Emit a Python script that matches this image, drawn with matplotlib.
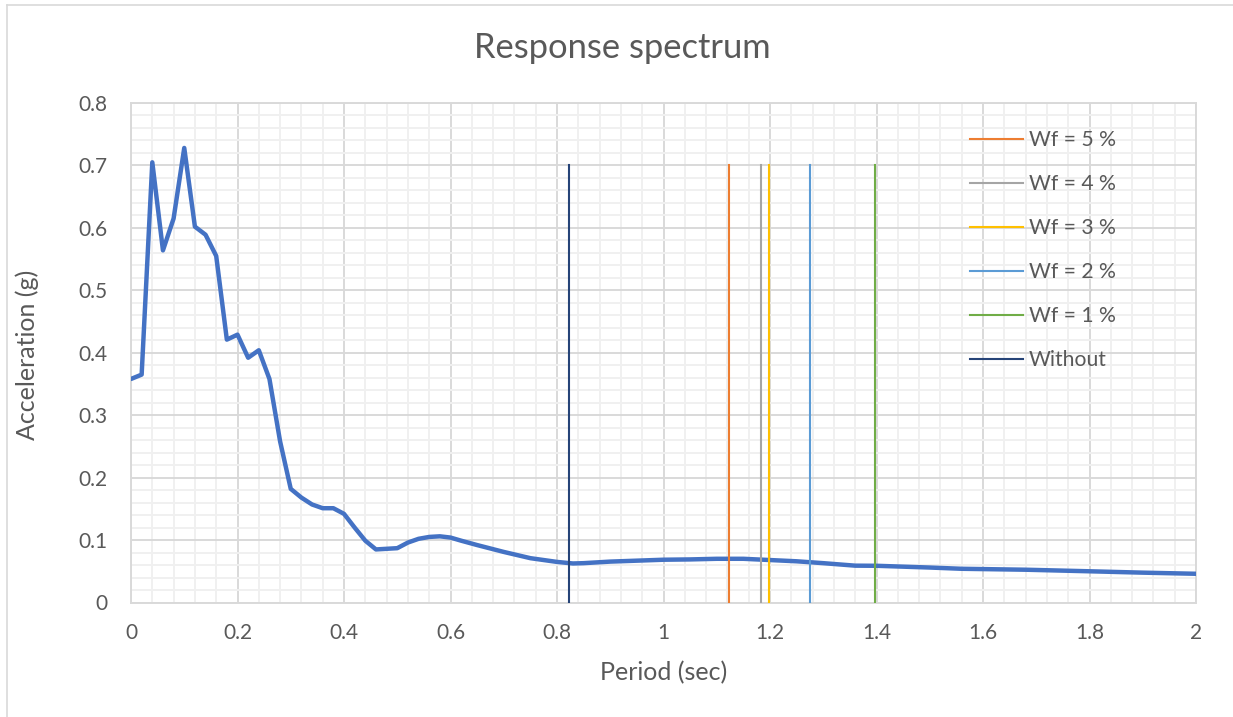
import matplotlib
matplotlib.use("Agg")
import matplotlib.pyplot as plt
from matplotlib.lines import Line2D
from matplotlib.ticker import MultipleLocator, FuncFormatter

plt.rcParams['font.family'] = ['Lato', 'DejaVu Sans']

# Response spectrum: period (s) vs spectral acceleration (g)
period = [0.00, 0.02, 0.04, 0.06, 0.08, 0.10, 0.12, 0.14, 0.16, 0.18,
          0.20, 0.22, 0.24, 0.26, 0.28, 0.30, 0.32, 0.34, 0.36, 0.38,
          0.40, 0.42, 0.44, 0.46, 0.48, 0.50, 0.52, 0.54, 0.56, 0.58,
          0.60, 0.62, 0.65, 0.70, 0.75, 0.80, 0.83, 0.85, 0.90, 0.95,
          1.00, 1.05, 1.10, 1.15, 1.20, 1.25, 1.30, 1.36, 1.40, 1.50,
          1.56, 1.68, 1.80, 1.90, 2.00]
acceleration = [0.358, 0.365, 0.705, 0.564, 0.615, 0.728, 0.602, 0.589, 0.555, 0.421,
                0.429, 0.392, 0.404, 0.358, 0.258, 0.182, 0.168, 0.157, 0.151, 0.151,
                0.142, 0.120, 0.099, 0.085, 0.086, 0.087, 0.096, 0.102, 0.105, 0.106,
                0.104, 0.099, 0.092, 0.081, 0.071, 0.065, 0.0625, 0.063, 0.0655, 0.067,
                0.0685, 0.069, 0.070, 0.070, 0.068, 0.066, 0.063, 0.059, 0.0588, 0.056,
                0.054, 0.0525, 0.050, 0.0478, 0.046]

# Fundamental periods for each damping case
case_labels = ["Wf = 5 %", "Wf = 4 %", "Wf = 3 %", "Wf = 2 %", "Wf = 1 %", "Without"]
case_periods = [1.123, 1.183, 1.198, 1.276, 1.398, 0.823]
case_colors = ["#ED7D31", "#A5A5A5", "#FFC000", "#5B9BD5", "#70AD47", "#264478"]
marker_height = [0.0, 0.7]

x_ticks = [0, 0.2, 0.4, 0.6, 0.8, 1.0, 1.2, 1.4, 1.6, 1.8, 2.0]
y_ticks = [0, 0.1, 0.2, 0.3, 0.4, 0.5, 0.6, 0.7, 0.8]

text_color = "#595959"
major_grid = "#D9D9D9"
minor_grid = "#F0F0F0"

fig = plt.figure(figsize=(12.33, 7.17), dpi=100)
ax = fig.add_axes([131 / 1233, 1 - 602.5 / 717, (1196 - 131) / 1233, (602.5 - 103) / 717])

ax.plot(period, acceleration, color="#4472C4", lw=3.2, solid_joinstyle="round",
        solid_capstyle="round", zorder=3)
for p, c, lab in zip(case_periods, case_colors, case_labels):
    ax.plot([p, p], marker_height, color=c, lw=1.5, label=lab, zorder=4)

ax.set_xlim(0, 2)
ax.set_ylim(0, 0.8)
ax.set_xticks(x_ticks)
ax.set_yticks(y_ticks)
ax.xaxis.set_minor_locator(MultipleLocator(0.04))
ax.yaxis.set_minor_locator(MultipleLocator(0.02))

fmt = FuncFormatter(lambda v, _: "0" if abs(v) < 1e-9 else ("%g" % round(v, 2)))
ax.xaxis.set_major_formatter(fmt)
ax.yaxis.set_major_formatter(fmt)

ax.grid(which="minor", color=minor_grid, lw=1.4, zorder=0)
ax.grid(which="major", color=major_grid, lw=1.4, zorder=1)
ax.set_axisbelow(True)
for s in ax.spines.values():
    s.set_color(major_grid)
    s.set_linewidth(1.4)

ax.tick_params(which="both", length=0)
ax.tick_params(axis="x", labelsize=15, labelcolor=text_color, pad=15)
ax.tick_params(axis="y", labelsize=15, labelcolor=text_color, pad=17)

ax.set_xlabel("Period (sec)", fontsize=18, color=text_color, va="center")
ax.xaxis.set_label_coords(0.5, -0.141)
ax.set_ylabel("Acceleration (g)", fontsize=18, color=text_color, va="center")
ax.yaxis.set_label_coords(-0.097, 0.495)

fig.text(622 / 1233, 1 - 48 / 717, "Response spectrum", fontsize=24.8,
         color=text_color, ha="center", va="center")

leg = ax.legend(loc="upper left", bbox_to_anchor=(970 / 1233, 1 - 130 / 717),
                bbox_transform=fig.transFigure, frameon=False, fontsize=15.2,
                handlelength=2.5, handletextpad=0.3, labelspacing=1.14,
                borderaxespad=0, borderpad=0)
for t in leg.get_texts():
    t.set_color(text_color)

# chart-area border
fig.add_artist(Line2D([6.5 / 1233, 6.5 / 1233], [0, 1 - 5 / 717], color=major_grid,
                      lw=1.2, transform=fig.transFigure))
fig.add_artist(Line2D([6.5 / 1233, 1], [1 - 5 / 717, 1 - 5 / 717], color=major_grid,
                      lw=1.2, transform=fig.transFigure))

fig.savefig("out.png", dpi=100, facecolor="white")
